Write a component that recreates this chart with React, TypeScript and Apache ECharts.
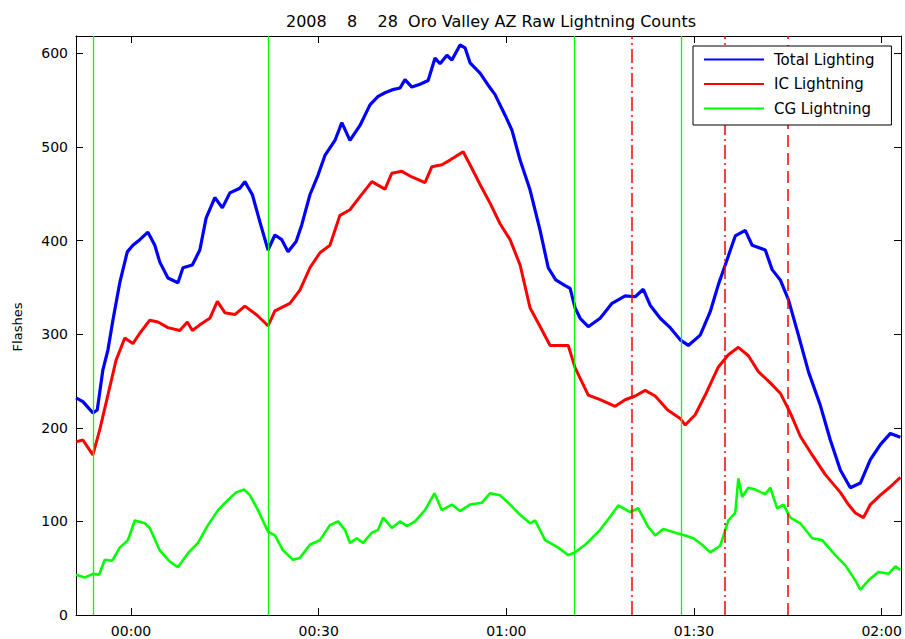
import React, { useEffect, useRef } from 'react';
import * as echarts from 'echarts';

const titleText = '2008    8    28  Oro Valley AZ Raw Lightning Counts';
const yAxisTitle = 'Flashes';
const seriesNames = ['Total Lighting', 'IC Lightning', 'CG Lightning'];

// [minutes after 00:00, flashes]
const totalLightning: [number, number][] = [
  [-8.8, 232], [-7.7, 228], [-6.1, 216], [-5.4, 219], [-4.5, 262], [-3.7, 283], [-2.9, 315],
  [-1.8, 355], [-0.6, 388], [0.3, 395], [1.4, 401], [2.7, 409], [3.8, 395], [4.6, 377],
  [5.9, 360], [7.5, 355], [8.3, 371], [9.8, 374], [11.0, 390], [12.0, 424], [13.4, 446],
  [14.6, 435], [15.8, 451], [17.4, 456], [18.2, 463], [19.4, 449], [20.6, 420], [21.9, 390],
  [23.0, 406], [24.1, 401], [25.1, 388], [26.4, 399], [27.3, 417], [28.6, 449], [29.9, 470],
  [31.0, 491], [32.6, 507], [33.7, 526], [35.0, 507], [36.6, 523], [38.2, 545], [39.5, 554],
  [40.6, 558], [41.7, 561], [43.0, 563], [43.8, 572], [44.9, 564], [46.2, 567], [47.5, 571],
  [48.6, 595], [49.4, 589], [50.5, 598], [51.3, 593], [52.6, 609], [53.4, 606], [54.2, 590],
  [55.8, 579], [57.1, 566], [58.2, 556], [59.8, 534], [60.9, 518], [62.2, 486], [63.8, 454],
  [65.4, 411], [66.7, 371], [67.9, 358], [69.4, 352], [70.2, 349], [71.0, 328], [71.8, 317],
  [73.1, 308], [75.0, 317], [76.9, 333], [79.0, 341], [80.6, 340], [81.9, 348], [83.0, 331],
  [84.6, 317], [86.2, 307], [87.8, 294], [89.1, 288], [91.0, 299], [92.6, 324], [93.9, 353],
  [95.0, 374], [96.6, 405], [98.2, 411], [99.3, 395], [101.4, 390], [102.5, 369], [103.8, 358],
  [105.1, 337], [106.7, 299], [108.3, 260], [110.2, 224], [111.8, 187], [113.4, 155],
  [115.0, 136], [116.6, 141], [118.2, 166], [119.8, 182], [121.4, 194], [123.0, 190],
];

const icLightning: [number, number][] = [
  [-8.8, 185], [-7.7, 187], [-6.1, 171], [-5.0, 198], [-3.7, 235], [-2.4, 272], [-1.0, 296],
  [0.3, 290], [1.4, 301], [3.0, 315], [4.3, 313], [5.9, 307], [7.8, 304], [9.0, 313],
  [9.8, 304], [11.0, 310], [12.6, 317], [13.8, 335], [15.0, 323], [16.6, 321], [18.2, 330],
  [20.2, 320], [21.9, 309], [23.0, 325], [25.4, 333], [27.0, 347], [28.6, 371], [30.2, 387],
  [31.8, 395], [33.4, 427], [35.0, 433], [36.6, 447], [38.5, 463], [40.6, 455], [41.7, 472],
  [43.3, 474], [44.9, 468], [47.0, 462], [48.1, 479], [49.7, 481], [51.0, 486], [53.1, 495],
  [54.2, 481], [55.8, 460], [57.4, 440], [59.0, 418], [60.6, 401], [62.2, 374], [63.8, 328],
  [65.1, 312], [67.0, 288], [68.6, 288], [69.9, 288], [71.0, 264], [73.1, 235], [75.0, 230],
  [77.4, 223], [79.0, 230], [80.6, 234], [82.2, 240], [83.8, 234], [85.8, 219], [87.8, 210],
  [88.6, 203], [90.2, 214], [91.8, 235], [93.9, 265], [95.5, 278], [97.1, 286], [98.7, 277],
  [100.3, 260], [102.2, 248], [103.8, 237], [105.4, 216], [107.0, 191], [108.9, 171],
  [111.0, 150], [113.4, 131], [114.7, 118], [115.8, 109], [117.1, 104], [118.2, 118],
  [119.8, 128], [121.4, 137], [123.0, 147],
];

const cgLightning: [number, number][] = [
  [-8.8, 43], [-7.4, 40], [-6.1, 44], [-5.1, 43], [-4.2, 59], [-3.0, 58], [-1.8, 72],
  [-0.5, 80], [0.6, 101], [2.2, 98], [3.0, 93], [4.6, 69], [6.2, 57], [7.5, 51], [9.1, 66],
  [10.7, 77], [12.3, 96], [13.9, 112], [15.5, 123], [16.8, 131], [18.1, 134], [19.0, 128],
  [20.3, 112], [21.9, 89], [23.0, 85], [24.3, 69], [25.9, 59], [27.0, 61], [28.6, 75],
  [30.2, 80], [31.8, 96], [33.1, 100], [34.2, 91], [35.0, 77], [36.1, 82], [37.1, 77],
  [38.5, 88], [39.5, 91], [40.3, 104], [41.7, 93], [43.0, 100], [44.1, 95], [45.4, 100],
  [47.0, 112], [48.5, 130], [49.7, 112], [51.3, 118], [52.6, 111], [54.2, 118], [56.1, 120],
  [57.4, 130], [59.0, 128], [60.6, 118], [62.2, 107], [63.8, 98], [64.6, 101], [66.2, 80],
  [68.3, 72], [69.9, 64], [71.0, 67], [72.6, 75], [75.0, 91], [76.6, 105], [77.9, 117],
  [79.8, 110], [81.1, 114], [82.7, 94], [83.8, 85], [85.1, 92], [87.0, 88], [88.6, 85],
  [89.9, 82], [91.3, 75], [92.6, 67], [94.2, 74], [95.5, 101], [96.6, 109], [97.1, 146],
  [97.7, 126], [98.7, 136], [99.8, 134], [101.4, 129], [102.2, 136], [103.3, 114],
  [104.3, 118], [105.4, 104], [107.0, 98], [108.9, 82], [110.5, 80], [112.6, 64], [114.2, 53],
  [115.8, 37], [116.6, 27], [117.9, 37], [119.5, 46], [121.1, 44], [122.2, 52], [123.0, 48],
];

const greenMarkers = [-6, 22, 70.8, 87.9];
const dashDotMarkers = [80, 95];
const dashedMarkers = [105];

const xMin = -8.8;
const xMax = 123.1;
const yMin = 0;
const yMax = 618.6;
const xTickValues = [0, 30, 60, 90, 120];
const xTickLabels = ['00:00', '00:30', '01:00', '01:30', '02:00'];
const yTickValues = [0, 100, 200, 300, 400, 500, 600];

const FONT = 'DejaVu Sans';

export default function App() {
  const ref = useRef<HTMLDivElement>(null);
  useEffect(() => {
    if (!ref.current) return;
    const chart = echarts.init(ref.current, null, { renderer: 'svg' });
    const axisLine = { show: true, onZero: false, lineStyle: { color: '#000', width: 1 } };
    const tickStyle = { lineStyle: { color: '#000', width: 1 } };
    const labelMap: Record<string, string> = {};
    xTickValues.forEach((v, i) => { labelMap[String(v)] = xTickLabels[i]; });

    chart.setOption({
      animation: false,
      backgroundColor: '#fff',
      title: {
        text: titleText,
        left: 486,
        top: 8,
        textAlign: 'center',
        textStyle: { fontFamily: FONT, fontSize: 16, fontWeight: 'normal', color: '#000' },
      },
      graphic: [
        {
          type: 'text',
          x: 17,
          y: 327,
          rotation: Math.PI / 2,
          style: {
            text: yAxisTitle,
            font: `13px "${FONT}"`,
            fill: '#000',
            align: 'center',
            verticalAlign: 'middle',
          },
        },
      ],
      legend: {
        data: seriesNames,
        orient: 'vertical',
        left: 693,
        top: 46,
        padding: [6, 17, 9, 10],
        itemWidth: 60,
        itemHeight: 16,
        itemGap: 9.5,
        backgroundColor: '#fff',
        borderColor: '#000',
        borderWidth: 1,
        borderRadius: 0,
        itemStyle: { opacity: 0 },
        textStyle: { fontFamily: FONT, fontSize: 15, color: '#000', padding: [0, 0, 0, 5] },
        z: 20,
      },
      grid: { left: 76, top: 36, width: 825, height: 579, containLabel: false },
      xAxis: [
        {
          type: 'value',
          position: 'bottom',
          min: xMin,
          max: xMax,
          axisLine,
          axisTick: { show: true, inside: true, length: 7, customValues: xTickValues, ...tickStyle },
          axisLabel: {
            customValues: xTickValues,
            margin: 9,
            color: '#000',
            fontFamily: FONT,
            fontSize: 14,
            formatter: (v: number) => labelMap[String(v)] ?? '',
          },
          splitLine: { show: false },
        },
        {
          type: 'value',
          position: 'top',
          min: xMin,
          max: xMax,
          axisLine,
          axisTick: { show: true, inside: true, length: 7, customValues: xTickValues, ...tickStyle },
          axisLabel: { show: false },
          splitLine: { show: false },
        },
      ],
      yAxis: [
        {
          type: 'value',
          position: 'left',
          min: yMin,
          max: yMax,
          axisLine,
          axisTick: { show: true, inside: true, length: 7, customValues: yTickValues, ...tickStyle },
          axisLabel: {
            customValues: yTickValues,
            margin: 8,
            color: '#000',
            fontFamily: FONT,
            fontSize: 14,
          },
          splitLine: { show: false },
        },
        {
          type: 'value',
          position: 'right',
          min: yMin,
          max: yMax,
          axisLine,
          axisTick: { show: true, inside: true, length: 7, customValues: yTickValues, ...tickStyle },
          axisLabel: { show: false },
          splitLine: { show: false },
        },
      ],
      series: [
        {
          name: seriesNames[0],
          type: 'line',
          data: totalLightning,
          symbol: 'none',
          showSymbol: false,
          color: '#0000ff',
          lineStyle: { color: '#0000ff', width: 3.2 },
          z: 3,
        },
        {
          name: seriesNames[1],
          type: 'line',
          data: icLightning,
          symbol: 'none',
          showSymbol: false,
          color: '#ff0000',
          lineStyle: { color: '#ff0000', width: 3 },
          z: 3,
        },
        {
          name: seriesNames[2],
          type: 'line',
          data: cgLightning,
          symbol: 'none',
          showSymbol: false,
          color: '#00ff00',
          lineStyle: { color: '#00ff00', width: 2.6 },
          z: 3,
        },
        {
          name: 'markers',
          type: 'line',
          data: [],
          symbol: 'none',
          z: 5,
          markLine: {
            silent: true,
            symbol: ['none', 'none'],
            label: { show: false },
            animation: false,
            data: [
              ...greenMarkers.map((v) => ({ xAxis: v, lineStyle: { color: '#00ff00', width: 1.3, type: 'solid' } })),
              ...dashDotMarkers.map((v) => ({ xAxis: v, lineStyle: { color: '#ff0000', width: 1.5, type: [14, 4, 2, 4] } })),
              ...dashedMarkers.map((v) => ({ xAxis: v, lineStyle: { color: '#ff0000', width: 1.5, type: [12, 6] } })),
            ],
          },
        },
      ],
    });
    return () => chart.dispose();
  }, []);

  return (
    <div
      ref={ref}
      style={{ position: 'fixed', left: 0, top: 0, width: 905, height: 639, background: '#fff' }}
    />
  );
}
